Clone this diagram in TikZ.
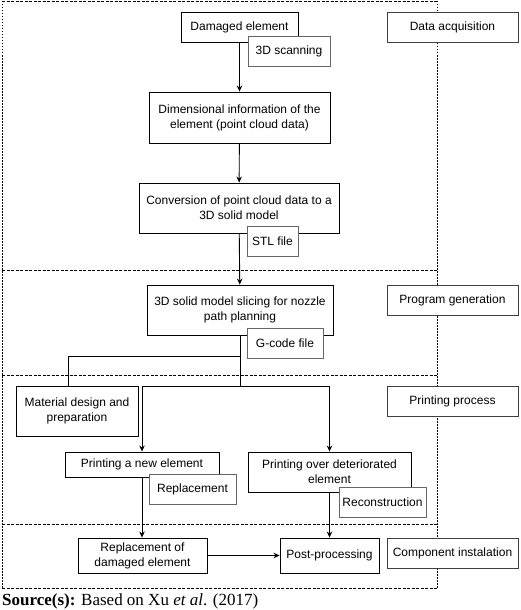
\documentclass[tikz,border=0pt]{standalone}
\usepackage{fontspec}
\setmainfont{Liberation Sans}
\newfontfamily\srcfont{Liberation Serif}
\usetikzlibrary{arrows.meta}

\begin{document}
\begin{tikzpicture}[x=1pt,y=-1pt,
    font=\fontsize{12}{15}\selectfont,
    box/.style={draw,fill=white,line width=0.9pt,align=center,inner sep=0pt},
    tag/.style={draw=black!60,fill=white,line width=0.9pt,inner sep=0pt,minimum height=30pt},
    phase/.style={draw=black!75,fill=white,line width=0.9pt,inner sep=0pt,minimum width=131pt,minimum height=30pt},
    hsep/.style={line width=0.8pt,dash pattern=on 3pt off 1.5pt},
    vsep/.style={line width=0.8pt,dash pattern=on 1.5pt off 1.5pt},
    link/.style={line width=0.9pt,-{Stealth[length=6pt,width=5.5pt]}}]
    \useasboundingbox (0,0) rectangle (520,610);
    % phase borders
    \draw[vsep] (2,1) -- (2,588);
    \draw[vsep] (437,1) -- (437,588);
    \foreach \y in {1,270,375,524,588}
        \draw[hsep] (2,\y) -- (437,\y);
    % main steps
    \node[box,minimum width=117pt,minimum height=30pt] (damaged) at (239.5,27) {Damaged element};
    \node[box,minimum width=181pt,minimum height=51pt] (dim) at (239.5,117.5) {Dimensional information of the\\element (point cloud data)};
    \node[box,minimum width=200pt,minimum height=50pt] (conv) at (239,208) {Conversion of point cloud data to a\\3D solid model};
    \node[box,minimum width=186pt,minimum height=50pt] (slice) at (240,310) {3D solid model slicing for nozzle\\path planning};
    \node[box,minimum width=122pt,minimum height=50pt] (mat) at (77,411) {Material design and\\preparation};
    \node[box,minimum width=154pt,minimum height=25pt] (pnew) at (142,464.5) {Printing a new element};
    \node[box,minimum width=163pt,minimum height=40pt] (pover) at (329.5,472) {Printing over deteriorated\\element};
    \node[box,minimum width=129pt,minimum height=35pt] (repl) at (142.5,555.5) {Replacement of\\damaged element};
    \node[box,minimum width=99pt,minimum height=35pt] (post) at (329.5,555.5) {Post-processing};
    % outputs
    \node[tag,minimum width=82pt] (scan) at (289,51) {3D scanning};
    \node[tag,minimum width=51pt] (stl) at (272.5,241) {STL file};
    \node[tag,minimum width=76pt] (gcode) at (285,343) {G-code file};
    \node[tag,minimum width=87pt] (rtag) at (192.5,489) {Replacement};
    \node[tag,minimum width=87pt] (ctag) at (382.5,502) {Reconstruction};
    % phases
    \node[phase] (acq) at (452.5,27) {Data acquisition};
    \node[phase] (prog) at (452.5,300) {Program generation};
    \node[phase] (print) at (452.5,401) {Printing process};
    \node[phase] (inst) at (452.5,553) {Component instalation};
    % links
    \draw[link] (damaged) -- (dim);
    \draw[link] (dim) -- (conv);
    \draw[link] (conv) -- (slice);
    \coordinate (mfork) at (240,356);
    \coordinate (pfork) at (240,386);
    \draw[line width=0.9pt] (slice.south) -- (pfork);
    \draw[line width=0.9pt] (mfork) -| ([xshift=-9pt]mat.north);
    \draw[link] (pfork) -| (pnew.north);
    \draw[link] (pfork) -| (pover.north);
    \draw[link] (pnew.south) -- (pnew.south |- repl.north);
    \draw[link] (pover) -- (post);
    \draw[link] (repl) -- (post);
    % source
    \node[anchor=base west,inner sep=0pt,font=\srcfont\fontsize{17}{19}\selectfont] (src) at (2,605) {\textbf{Source(s):} Based on Xu \textit{et al}. (2017)};
\end{tikzpicture}
\end{document}
